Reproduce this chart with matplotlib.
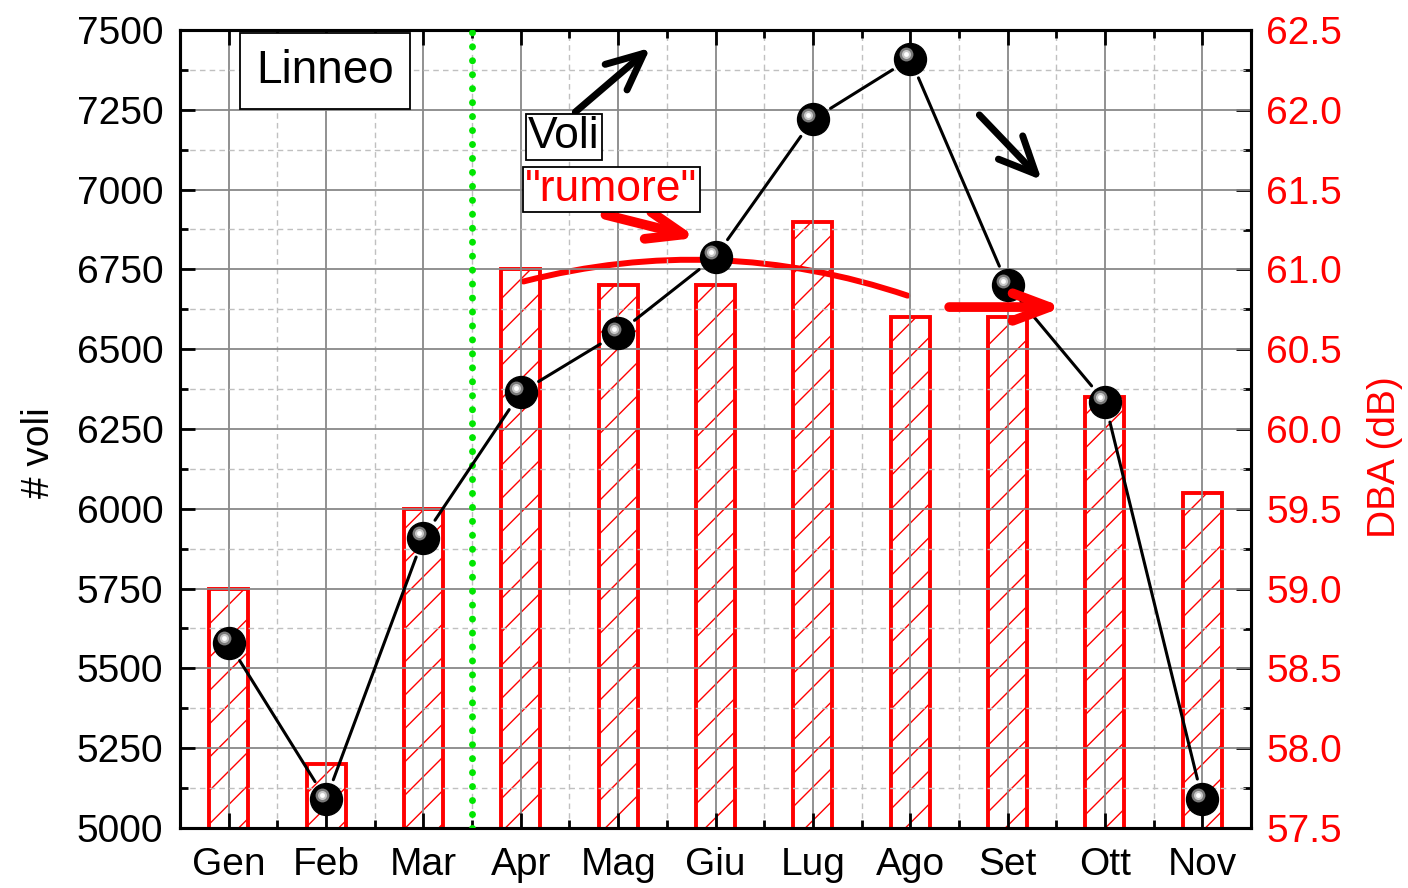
import numpy as np
import matplotlib.pyplot as plt
from matplotlib.ticker import MultipleLocator, FixedLocator
from matplotlib.transforms import ScaledTranslation
from matplotlib.patches import FancyArrowPatch

plt.rcParams["font.family"] = ["Liberation Sans", "DejaVu Sans"]

mesi = ["Gen", "Feb", "Mar", "Apr", "Mag", "Giu", "Lug", "Ago", "Set", "Ott", "Nov"]
voli = [5580, 5090, 5910, 6365, 6550, 6790, 7220, 7410, 6700, 6335, 5090]
rumore = [59.0, 57.9, 59.5, 61.0, 60.9, 60.9, 61.3, 60.7, 60.7, 60.2, 59.6]

x = np.arange(len(mesi))

fig = plt.figure(figsize=(14.08, 8.88), dpi=100)
ax = fig.add_axes([180/1408, 60/888, 1071/1408, 798/888])
ax2 = ax.twinx()
ax.set_zorder(ax2.get_zorder() + 1)
ax.patch.set_visible(False)

# barre rumore (asse destro)
ax2.bar(x, rumore, width=0.4, fill=False, edgecolor="red", linewidth=2.8,
        hatch="/", zorder=2)
ax2.set_ylim(57.5, 62.5)
ax2.yaxis.set_major_locator(MultipleLocator(0.5))
ax2.yaxis.set_minor_locator(MultipleLocator(0.25))
ax2.yaxis.set_major_formatter(plt.FormatStrFormatter("%.1f"))
ax2.tick_params(axis="y", which="both", direction="in", colors="black",
                labelcolor="red", labelsize=28, width=2, pad=11)
ax2.tick_params(axis="y", which="major", length=11)
ax2.tick_params(axis="y", which="minor", length=6)
ax2.set_ylabel("DBA (dB)", color="red", fontsize=28)
ax2.yaxis.set_label_coords(1.108, 0.465)

# curva rossa di tendenza
curva = FancyArrowPatch((3, 60.92), (7, 60.83), arrowstyle="-",
                        connectionstyle="arc3,rad=-0.15", color="red",
                        lw=4.3, capstyle="round", zorder=4)
ax2.add_patch(curva)

# linea voli con gap attorno ai marker
for i in range(len(x) - 1):
    ax.annotate("", xy=(x[i+1], voli[i+1]), xytext=(x[i], voli[i]),
                arrowprops=dict(arrowstyle="-", color="black", lw=2.2,
                                shrinkA=15, shrinkB=15), zorder=5)

# marker "sfera"
ax.plot(x, voli, "o", color="black", markersize=23, zorder=6)
off = ScaledTranslation(-4.5/100, 4.5/100, fig.dpi_scale_trans)
ax.plot(x, voli, "o", color="#7a7a7a", markersize=10, markeredgewidth=0,
        transform=ax.transData + off, zorder=7)
ax.plot(x, voli, "o", color="#c8c8c8", markersize=6.5, markeredgewidth=0,
        transform=ax.transData + off, zorder=8)
ax.plot(x, voli, "o", color="white", markersize=3.5, markeredgewidth=0,
        transform=ax.transData + off, zorder=9)

ax.set_xlim(-0.5, 10.5)
ax.set_ylim(5000, 7500)
ax.set_xticks(x)
ax.set_xticklabels(mesi)
ax.xaxis.set_minor_locator(FixedLocator(x[:-1] + 0.5))
ax.yaxis.set_major_locator(MultipleLocator(250))
ax.yaxis.set_minor_locator(MultipleLocator(125))
ax.tick_params(which="both", direction="in", width=2, top=True, right=False,
               labelsize=28)
ax.tick_params(axis="x", pad=14)
ax.tick_params(axis="y", pad=12)
ax.tick_params(which="major", length=11)
ax.tick_params(which="minor", length=6)
ax.set_ylabel("# voli", fontsize=28)
ax.yaxis.set_label_coords(-0.115, 0.47)

ax.grid(which="major", color="#888888", lw=1.3, zorder=0)
ax.grid(which="minor", color="#c0c0c0", lw=1.0, ls=(0, (4, 3)), zorder=0)
ax.set_axisbelow(True)

for a in (ax, ax2):
    for s in a.spines.values():
        s.set_linewidth(2.2)

# linea verde tratteggiata tra Mar e Apr
ax.axvline(2.5, color="#00e600", lw=5, ls=(0, (0.01, 2.0)),
           dash_capstyle="round", zorder=3)

# frecce
nera = dict(arrowstyle="->,head_length=1.2,head_width=0.55", color="black",
            lw=5, capstyle="round", joinstyle="round", mutation_scale=22,
            shrinkA=0, shrinkB=0)
rossa = dict(arrowstyle="->,head_length=1.2,head_width=0.45", color="red",
             lw=7, capstyle="round", joinstyle="round", mutation_scale=22,
             shrinkA=0, shrinkB=0)
ax.annotate("", xy=(4.33, 7444), xytext=(3.56, 7243), arrowprops=nera, zorder=10)
ax.annotate("", xy=(8.35, 7030), xytext=(7.71, 7234), arrowprops=nera, zorder=10)
ax.annotate("", xy=(4.81, 6849), xytext=(3.87, 6921), arrowprops=rossa, zorder=10)
ax.annotate("", xy=(8.57, 6632), xytext=(7.40, 6632), arrowprops=rossa, zorder=10)

# etichette
ax.text(0.99, 7372, "Linneo", fontsize=33, ha="center", va="center",
        bbox=dict(boxstyle="square,pad=0.35", fc="white", ec="black", lw=1.3),
        zorder=11)
ax.text(3.44, 7165, "Voli", fontsize=32, ha="center", va="center",
        bbox=dict(boxstyle="square,pad=0.05", fc="white", ec="black", lw=1.3),
        zorder=11)
ax.text(3.93, 7000, "\"rumore\"", fontsize=32, color="red", ha="center",
        va="center",
        bbox=dict(boxstyle="square,pad=0.05", fc="white", ec="black", lw=1.3),
        zorder=11)

fig.savefig("out.png", dpi=100)
